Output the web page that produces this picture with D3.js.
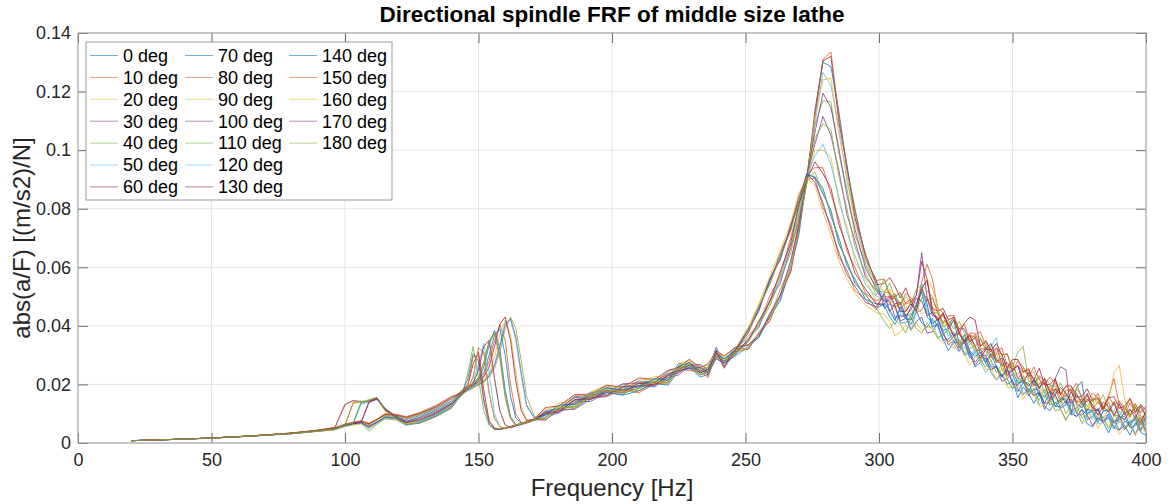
<!DOCTYPE html>
<html>
<head>
<meta charset="utf-8">
<script src="https://cdn.jsdelivr.net/npm/d3@7"></script>
<style>
  body { margin: 0; background: #fff; }
  svg { display: block; font-family: "Liberation Sans", Arial, Helvetica, sans-serif; }
</style>
</head>
<body>
<div id="chart"></div>
<script>
// frequency grid [Hz] shared by all measurements
const freq = [
  20, 35, 50, 65, 80, 90, 96,
  100, 103, 106, 109, 112, 115, 119, 123, 128, 134, 140,
  144, 146, 148, 150, 152, 154, 156, 158, 160, 162, 164, 166, 168, 171,
  175, 180, 186, 192, 198, 204, 210, 216, 221, 225, 229, 233, 236, 239, 242, 246,
  251, 255, 259, 263, 267, 270, 273, 276, 279, 282, 285, 288, 291, 295, 299,
  302, 304, 306, 308, 310, 312, 314, 316, 318, 320,
  322, 324, 326, 328, 330, 332, 334, 336, 338, 340,
  342, 344, 346, 348, 350, 352, 354, 356, 358, 360,
  362, 364, 366, 368, 370, 372, 374, 376, 378, 380,
  382, 384, 386, 388, 390, 392, 394, 396, 398, 400
];

// abs(a/F) per spindle direction, stored in 1e-3 (m/s2)/N
const deg0 = [
  0.8, 1.2, 1.7, 2.4, 3.2, 4.0, 4.6,
  6.1, 6.6, 13.6, 14.5, 15.4, 11.4, 8.7, 6.4, 7.0, 9.2, 12.4,
  17.5, 18.8, 20, 21.5, 26, 33.5, 38.5, 32, 18, 9, 6.2, 6.2, 6.8, 7.8,
  11.1, 11.6, 15.5, 15.7, 18.7, 18.1, 21.2, 20.7, 23.8, 24.8, 27.6, 24.7, 26, 30.3, 28.8, 31.4,
  39, 45, 56, 62.5, 74, 81.5, 92, 90.5, 87, 77.5, 70, 60.5, 56, 49, 47.5,
  47, 43, 40.5, 44, 42.5, 40.5, 45, 41, 39.5, 42.5,
  40, 35, 35.5, 37.5, 33.5, 34.5, 29, 31, 32, 27,
  25, 26.5, 23, 25, 21, 17.5, 20.5, 20.5, 16.5, 17,
  13.5, 17.5, 12.5, 12.5, 14.5, 9.5, 19, 21, 8, 9,
  11.5, 7.5, 8.5, 4.8, 8.9, 9, 5.2, 6, 8.7, 4
];
const deg10 = [
  0.8, 1.2, 1.7, 2.4, 3.4, 4.3, 5.0,
  6.0, 13.8, 14.0, 14.4, 15.0, 11.0, 8.8, 6.9, 7.5, 9.8, 13.0,
  17.5, 18.8, 19.8, 21, 23, 28, 35, 40.5, 35, 20, 10, 7, 6.8, 7.8,
  8.5, 11.8, 12.5, 16.3, 16.5, 19.1, 17.8, 20.9, 21.2, 26.2, 25.4, 25.3, 23, 31.7, 26.2, 31.6,
  36.5, 40.5, 50, 57, 70.5, 80, 92, 94, 94, 85, 76.5, 65.5, 60, 51, 48.5,
  50, 49.8, 51, 45.3, 48, 49, 44.5, 45.5, 49, 46,
  42, 43.5, 40, 43, 38.5, 35, 37.5, 37.5, 33, 34.5,
  29.5, 31, 32.5, 26.5, 24.5, 26.5, 24, 25.5, 19.5, 23,
  21, 17.5, 21.5, 17, 16, 19, 17, 13, 16, 14,
  17, 12, 16, 22, 12.9, 9.5, 13.7, 10.5, 12.2, 9
];
const deg20 = [
  0.8, 1.2, 1.7, 2.5, 3.4, 4.4, 5.2,
  13.5, 14.2, 13.8, 14.6, 15.3, 11.2, 8.6, 6.6, 7.2, 9.4, 12.6,
  17, 18.3, 19.3, 20.3, 21.5, 24, 29.5, 37, 42, 37, 24, 12.5, 8, 8,
  10.4, 13.7, 14, 17.4, 19.8, 18.8, 20.3, 22.8, 22.3, 27.1, 28.3, 25, 25.9, 31.4, 29.7, 32.1,
  34.5, 42, 47, 58, 66.5, 80.5, 89.5, 100, 100, 97.5, 82, 74, 62, 55.5, 48.5,
  50, 47.5, 50, 48, 43, 44.5, 47, 44, 45.5, 40.5,
  42.5, 44, 38.5, 36.5, 38, 34.5, 37, 32, 29, 32,
  32, 27.5, 28, 23.5, 27.5, 22, 22, 23.5, 18, 20.5,
  20, 15.5, 16.5, 18.5, 14.5, 15.5, 13.5, 15, 11, 13,
  15, 11, 15, 24, 26.5, 15, 9.2, 12, 7.2, 10
];
const deg30 = [
  0.8, 1.2, 1.6, 2.3, 3.2, 4.1, 4.7,
  13.0, 14.5, 14.2, 14.0, 15.0, 11.6, 8.4, 6.2, 6.8, 9.0, 12.0,
  17, 18, 19, 20, 21, 23, 26.5, 33, 40.5, 42.5, 36, 24, 13, 8.5,
  9.6, 10.1, 14, 14.2, 17.2, 16.6, 19.7, 19.2, 22.3, 23.3, 26.1, 23.2, 24.5, 28.8, 27.3, 29.9,
  35.5, 39.5, 48.5, 54.5, 67, 76, 91.5, 102, 111.5, 105, 93, 78, 69, 56.5, 52,
  48.5, 48.5, 43, 43, 44, 38.5, 41.5, 43, 37.5, 38,
  41, 38, 33.5, 35, 31.5, 34.5, 30, 26.5, 29, 29,
  25, 26, 21, 22, 23.5, 18.5, 16.5, 18.5, 16, 17.5,
  11.5, 15, 22, 26, 25, 10, 9, 11.5, 9.5, 6,
  9, 7, 10, 5.3, 4.4, 7.5, 6.2, 3, 7.2, 4
];
const deg40 = [
  0.8, 1.2, 1.7, 2.4, 3.3, 4.2, 4.9,
  6.2, 13.4, 14.3, 14.1, 15.2, 11.2, 8.5, 6.7, 7.4, 9.6, 12.8,
  16.8, 17.8, 18.8, 19.8, 20.8, 22.5, 25.5, 31, 39, 43, 39, 28, 16, 9,
  9.4, 12.7, 13, 16.4, 18.8, 17.8, 19.3, 21.8, 21.3, 26.1, 27.3, 24, 24.9, 30.4, 28.7, 31.1,
  32, 38, 42.5, 52.5, 60.5, 76.5, 89, 108.5, 117, 116.5, 98.5, 87, 71, 61, 52,
  51.5, 54.7, 49.5, 47.2, 50, 47.5, 45, 49.5, 50, 44.5,
  44.5, 39.5, 41, 42.5, 37, 35, 36.5, 33, 35.5, 31.5,
  28, 30.5, 30.5, 25.5, 26, 31, 33, 21, 21, 22.5,
  17, 19.5, 19.5, 15, 16, 18.5, 14.5, 15, 11, 15,
  15, 11, 11.5, 14.3, 9.4, 12, 9.7, 12.5, 7.7, 10.5
];
const deg50 = [
  0.8, 1.2, 1.7, 2.4, 3.3, 4.3, 4.9,
  5.9, 6.4, 13.2, 14.0, 14.8, 11.8, 9.0, 6.8, 7.4, 9.6, 12.8,
  17.2, 18.2, 19.2, 20.2, 21.2, 23.4, 27, 34, 41, 42, 35, 23, 12.5, 8.4,
  9.7, 10.2, 14.5, 15.1, 15.9, 18.9, 19.2, 19.3, 23.2, 24.4, 25.2, 25.5, 23.6, 31.1, 25.8, 31.4,
  33.5, 36, 44, 49, 62, 72.5, 91.5, 109, 126.5, 122, 107.5, 89.5, 77, 61, 55,
  49, 48.5, 50.6, 47.2, 42.8, 44, 44.5, 53, 46.5, 39.5,
  41, 41, 36.5, 38, 32.5, 34.5, 35.5, 30.5, 28, 30,
  33, 36, 25, 25, 23, 19.5, 23, 18.5, 17, 19.5,
  17, 13, 16, 13.5, 16.5, 11.5, 10.5, 13, 11.5, 8,
  12, 8.5, 10, 6.8, 10.9, 7.5, 6.2, 9.5, 4.2, 8
];
const deg60 = [
  0.8, 1.2, 1.7, 2.4, 3.4, 4.4, 5.3,
  6.0, 6.5, 6.8, 13.9, 15.1, 11.6, 9.0, 7.0, 7.8, 10.0, 13.2,
  17.5, 18.6, 19.6, 20.8, 22.5, 26, 33, 40.5, 43, 35, 21, 11, 7.6, 8.2,
  12.1, 12.6, 16.5, 16.7, 19.7, 19.1, 22.2, 21.7, 24.8, 25.8, 28.6, 25.7, 27, 31.3, 29.8, 32.4,
  32, 37.5, 41.5, 50.5, 58.5, 74, 89, 113.5, 130.5, 132, 109.5, 95, 77, 64.5, 54,
  54.5, 56.5, 53.5, 49.5, 53, 48, 50.5, 62, 56, 46,
  45, 46, 42, 43, 37.5, 41, 43, 42, 33, 35,
  31.5, 34, 30, 25.5, 28.5, 28.5, 24.5, 25, 21.5, 25.5,
  20, 20, 22, 16.5, 19.5, 19.5, 15.5, 16, 18.5, 14.5,
  15.5, 11.5, 15.5, 15.8, 11.9, 12.5, 15.2, 10.5, 13.2, 11
];
const deg70 = [
  0.8, 1.2, 1.7, 2.4, 3.3, 4.1, 4.6,
  6.0, 6.6, 7.0, 5.6, 7.2, 9.0, 8.8, 8.0, 9.4, 11.6, 14.4,
  17.8, 19.0, 20.2, 21.6, 24, 30, 37, 39, 30, 16, 8.5, 6.8, 7, 7.9,
  7.9, 11.2, 11.5, 14.9, 17.3, 16.3, 17.8, 20.3, 19.8, 24.6, 25.8, 22.5, 23.4, 28.9, 27.2, 29.6,
  33, 36, 43, 48.5, 60, 71, 91, 112, 130, 128.5, 113, 94, 80, 63, 55.5,
  46, 47.5, 46.5, 41, 41, 43.5, 47, 52.5, 47.5, 39.5,
  40.5, 35.5, 31.5, 34.5, 34, 30, 31, 26, 27.5, 29,
  24, 21.5, 23.5, 20, 21.5, 15.5, 19, 17, 13.5, 17,
  12.5, 11, 14, 11.5, 8, 11, 9, 11.5, 6.5, 5.5,
  8.5, 7, 3.5, 7.8, 4.4, 6, 2.7, 7, 3.7, 2.5
];
const deg80 = [
  0.8, 1.2, 1.7, 2.4, 3.3, 4.2, 4.8,
  6.4, 7.0, 7.5, 6.2, 8.0, 9.6, 9.4, 8.4, 9.8, 12.0, 15.0,
  18.2, 19.4, 20.6, 22.3, 27.5, 35, 37.5, 29, 15.5, 8.2, 6.0, 6.4, 7.1, 8.0,
  9.5, 12.8, 13.5, 17.3, 17.5, 20.1, 18.8, 21.9, 22.2, 27.2, 26.4, 26.3, 24, 32.7, 27.2, 32.6,
  33.5, 37, 43, 50, 59.5, 73, 90.5, 111.5, 131, 133.5, 111.5, 93, 79, 63, 55.5,
  56, 50, 50, 51.5, 47.5, 48, 46.5, 55, 61, 56,
  46, 44.5, 39, 42, 37.5, 34, 36.5, 36.5, 32, 32.5,
  29, 32.5, 27, 26, 27.5, 22, 24.5, 24, 19.5, 20,
  22, 17.5, 18.5, 14, 18, 18, 14, 14, 16.5, 11.5,
  14, 11.5, 14, 9.3, 11.9, 12.5, 8.7, 13.5, 9.2, 8.5
];
const deg90 = [
  0.8, 1.2, 1.7, 2.4, 3.3, 4.2, 4.7,
  6.1, 6.7, 7.1, 4.4, 6.8, 8.8, 8.6, 7.6, 9.0, 11.2, 14.0,
  17, 18.5, 20.5, 25, 33, 35, 22, 11, 6.2, 5.2, 5.8, 6.4, 7.0, 8.0,
  10.6, 11.1, 15, 15.2, 18.2, 17.6, 20.7, 20.2, 23.3, 24.3, 27.1, 24.2, 25.5, 29.8, 28.3, 30.9,
  32.5, 37.5, 42, 50.5, 60, 74, 89.5, 111, 124, 124.5, 105.5, 91.5, 75, 62.5, 53.5,
  52, 52.5, 45.6, 47.7, 47.3, 42, 45, 52.5, 56, 53,
  46.5, 40, 41, 37, 33, 36, 35.5, 31.5, 32.5, 27.5,
  29.5, 30.5, 25.5, 22.5, 24.5, 22, 23.5, 17.5, 21, 19,
  15.5, 19, 15, 13.5, 16.5, 14.5, 11, 13.5, 11.5, 14.5,
  9.5, 8.5, 11.5, 10.3, 6.9, 11, 7.7, 9.5, 6.2, 10.5
];
const deg100 = [
  0.8, 1.2, 1.7, 2.4, 3.2, 4.1, 4.6,
  5.8, 6.4, 6.9, 5.8, 7.2, 8.6, 8.2, 7.0, 8.4, 10.6, 13.4,
  16.5, 18.5, 22.5, 32.5, 31, 17, 8.5, 5.6, 5.0, 5.4, 6.0, 6.6, 7.2, 8.0,
  10.6, 11.5, 15.8, 16.4, 17.2, 20.2, 20.5, 20.6, 24.5, 25.7, 26.5, 26.8, 24.9, 32.4, 27.1, 32.7,
  33.5, 36.5, 44, 50.5, 62.5, 74.5, 91, 106, 119.5, 114.5, 100.5, 84.5, 73, 59.5, 53,
  48, 50.2, 47, 41.7, 42.5, 46.5, 50.5, 65, 49.5, 43.5,
  43, 37, 34.5, 36.5, 32.5, 35.5, 31, 27.5, 30, 30,
  26, 26, 22.5, 25.5, 20, 20, 21.5, 16, 18.5, 18,
  13.5, 14, 16.5, 12, 13, 15, 10, 9.5, 11.5, 11,
  11.5, 7, 9, 6.8, 9.4, 4.5, 7.2, 8, 4.2, 9
];
const deg110 = [
  0.8, 1.2, 1.7, 2.4, 3.3, 4.3, 5.0,
  6.3, 6.9, 7.4, 6.4, 7.9, 9.4, 9.2, 8.6, 10.0, 12.2, 15.2,
  17, 24, 33, 22, 11, 6, 4.6, 4.6, 5.1, 5.6, 6.2, 6.8, 7.3, 8.2,
  8.6, 11.9, 12.2, 15.6, 18, 17, 18.5, 21, 20.5, 25.3, 26.5, 23.2, 24.1, 29.6, 27.9, 30.3,
  34.5, 40.5, 46.5, 56, 65, 78, 89.5, 104, 109, 107, 91, 80, 67, 58, 50.5,
  56, 50.5, 50, 51, 45, 48, 52.5, 54, 52, 50,
  45, 41, 42, 39, 41.5, 37.5, 33.5, 36.5, 36, 32,
  33.5, 28, 30, 30.5, 25.5, 23.5, 25.5, 23, 24.5, 18.5,
  22, 20, 17, 20.5, 16.5, 15.5, 18.5, 16, 12.5, 15.5,
  13.5, 16.5, 11.5, 10.8, 13.9, 12.5, 9.2, 13.5, 10.2, 12
];
const deg120 = [
  0.8, 1.2, 1.7, 2.4, 3.2, 4.0, 4.5,
  5.6, 6.2, 6.6, 4.0, 6.4, 8.2, 7.8, 6.0, 7.2, 9.6, 12.4,
  16.5, 18, 21, 27, 34, 24, 10, 5.5, 4.8, 5.3, 5.9, 6.5, 7.1, 8.0,
  9.3, 12.6, 13.3, 17.1, 17.3, 19.9, 18.6, 21.7, 22, 27, 26.2, 26.1, 23.8, 32.5, 27, 32.4,
  35.5, 40, 48.5, 56, 68.5, 78.5, 91.5, 98, 102, 95, 84, 72, 64, 54, 50,
  49.5, 44.5, 42, 45.5, 43, 38.5, 45, 54.5, 44.5, 42,
  35.5, 37.5, 38.5, 33.5, 31, 33, 29, 32, 27.5, 24,
  27, 26.5, 22.5, 22, 18.5, 22.5, 17, 17, 18.5, 13,
  15.5, 15, 11, 11.5, 14, 10, 11, 6.5, 10.5, 10.5,
  6.5, 7, 9.5, 4.8, 7.4, 5, 7.7, 3, 5.7, 6.5
];
const deg130 = [
  0.8, 1.2, 1.7, 2.4, 3.3, 4.2, 4.8,
  6.2, 6.8, 7.3, 6.6, 8.0, 9.8, 9.6, 8.8, 10.2, 12.4, 15.6,
  17.5, 20, 27, 31, 18, 7.5, 4.8, 4.6, 5.0, 5.5, 6.1, 6.7, 7.2, 8.1,
  10.3, 10.8, 14.7, 14.9, 17.9, 17.3, 20.4, 19.9, 23, 24, 26.8, 23.9, 25.2, 29.5, 28, 30.6,
  35, 41.5, 48, 58.5, 68.5, 81.5, 90, 96, 92, 87, 74.5, 67, 58, 52.5, 47.5,
  47.5, 49.3, 49.5, 44.8, 45, 47.5, 45, 53, 55.5, 44.5,
  42, 44, 40.5, 36.5, 37.5, 34.5, 37, 33, 29, 32,
  32, 27.5, 29, 23, 25, 26.5, 21.5, 19.5, 21.5, 19,
  20.5, 14.5, 18.5, 16.5, 13.5, 17.5, 13.5, 12, 15, 13,
  9.5, 12.5, 10.5, 13.8, 8.9, 8, 11.2, 10, 6.7, 11
];
const deg140 = [
  0.8, 1.2, 1.7, 2.4, 3.2, 4.1, 4.7,
  6.0, 6.5, 6.9, 5.2, 7.0, 8.8, 8.5, 7.4, 8.8, 11.0, 13.8,
  17.5, 22, 30.5, 28, 14, 6.5, 4.8, 4.6, 5.1, 5.6, 6.1, 6.6, 7.2, 8.1,
  9.6, 12.9, 13.2, 16.6, 19, 18, 19.5, 22, 21.5, 26.3, 27.5, 24.2, 25.1, 30.6, 28.9, 31.3,
  38.5, 46, 55, 64, 73.5, 83.5, 91.5, 91, 85, 79.5, 68, 62, 54.5, 50.5, 46,
  47.5, 45.5, 42, 46.5, 42.5, 42, 47.5, 51.5, 43, 41,
  42, 38.5, 39, 42, 34, 37, 31.5, 29.5, 31, 27.5,
  30.5, 26, 22.5, 24.5, 24.5, 20.5, 21, 17.5, 21.5, 16,
  16, 17.5, 12.5, 15, 15, 11, 12, 14, 10, 11,
  7, 11, 11, 7.3, 7.9, 10.5, 5.7, 8.5, 6.2, 9
];
const deg150 = [
  0.8, 1.2, 1.7, 2.5, 3.4, 4.4, 5.1,
  6.5, 7.1, 7.6, 6.8, 8.2, 10.0, 9.8, 9.0, 10.4, 12.8, 16.0,
  16.5, 19.5, 29.5, 30, 15, 7.5, 5.2, 4.8, 5.2, 5.6, 6.2, 6.8, 7.3, 8.2,
  7.8, 11.1, 11.8, 15.6, 15.8, 18.4, 17.1, 20.2, 20.5, 25.5, 24.7, 24.6, 22.3, 31, 25.5, 30.9,
  38.5, 47, 54, 65, 73, 85, 90, 90.5, 80.5, 74.5, 63.5, 59, 52, 49, 45.5,
  51.5, 51.5, 46.5, 47.5, 51, 49.5, 47.5, 53, 48.5, 49.5,
  44.5, 41, 43.5, 43.5, 39, 40.5, 35, 37, 38, 33,
  31, 32.5, 30, 30.5, 24.5, 28, 26, 22.5, 26, 21.5,
  20, 22.5, 20.5, 16.5, 19.5, 17.5, 20.5, 15, 14, 17,
  15.5, 12, 16, 12.8, 14.4, 11, 15.2, 12, 10.7, 12.5
];
const deg160 = [
  0.8, 1.2, 1.7, 2.4, 3.2, 4.0, 4.4,
  5.7, 6.2, 6.5, 5.0, 6.6, 8.4, 8.0, 6.6, 7.8, 10.2, 13.0,
  16.5, 18.5, 22.5, 32.5, 31, 17, 8.5, 5.6, 5.0, 5.4, 6.0, 6.6, 7.2, 8.0,
  11.8, 12.3, 16.2, 16.4, 19.4, 18.8, 21.9, 21.4, 24.5, 25.5, 28.3, 25.4, 26.7, 31, 29.5, 32.1,
  39.5, 47.5, 56.5, 65.5, 75.5, 85, 90.5, 88, 79, 71, 62, 56, 51, 47, 44.5,
  44, 41.5, 36.5, 38, 40.5, 38.5, 41, 38.5, 39.5, 39.5,
  36, 34, 35.5, 32, 34.5, 30.5, 26.5, 29.5, 29, 25,
  25.5, 21.5, 25.5, 19, 19, 20.5, 15, 17.5, 17, 12.5,
  13, 15, 11, 11.5, 7.5, 11.5, 11.5, 7, 7.7, 10,
  5, 7.5, 5, 7.8, 2.9, 5.5, 6.2, 2.5, 7.2, 3
];
const deg170 = [
  0.8, 1.2, 1.7, 2.4, 3.3, 4.2, 4.9,
  6.2, 6.7, 7.0, 14.2, 15.5, 11.8, 9.2, 7.2, 8.0, 10.2, 13.4,
  17, 18.5, 20.5, 25, 33, 35, 22, 11, 6.2, 5.2, 5.8, 6.4, 7.0, 8.0,
  10, 10.5, 14.8, 15.4, 16.2, 19.2, 19.5, 19.6, 23.5, 24.7, 25.5, 25.8, 23.9, 31.4, 26.1, 31.7,
  37.5, 45.5, 55.5, 63, 74.5, 83, 92, 89, 82, 73, 65, 57.5, 53.5, 48, 46.5,
  51, 45, 47.5, 48, 43.5, 45.5, 49.5, 48.5, 43.5, 44.5,
  41.5, 44.5, 40, 36.5, 39, 39, 34.5, 36, 30.5, 32.5,
  34, 28.5, 26.5, 27.5, 25, 26.5, 20.5, 24, 22, 18.5,
  22, 17.5, 16.5, 19, 17, 13.5, 16.5, 14, 17, 12,
  11, 14, 12.5, 9.3, 13.4, 10, 11.7, 8.5, 12.7, 9.5
];
const deg180 = [
  0.8, 1.2, 1.7, 2.4, 3.3, 4.1, 4.8,
  6.3, 6.8, 14.0, 14.8, 15.6, 11.2, 8.4, 6.2, 6.9, 9.0, 12.2,
  17.8, 19.0, 20.3, 22.0, 27.5, 34.5, 37.5, 30, 16.5, 8.6, 6.3, 6.4, 6.9, 7.9,
  8.8, 12.1, 12.4, 15.8, 18.2, 17.2, 18.7, 21.2, 20.7, 25.5, 26.7, 23.4, 24.3, 29.8, 28.1, 30.5,
  38, 46.5, 54, 63.5, 72.5, 83, 90, 92.5, 85.5, 79, 68, 62, 55, 50.5, 46,
  41.5, 39, 42, 40.5, 37.5, 43, 39, 37.5, 41, 38.5,
  36, 37, 38.5, 35, 35.5, 30.5, 32, 33.5, 28, 26,
  28, 24, 27, 22, 18.5, 21.5, 21.5, 17.5, 18, 14.5,
  18.5, 13, 13.5, 15, 10, 13, 13, 8.5, 9.5, 12,
  8, 9, 5, 9.3, 9.4, 5.5, 6.2, 9, 4.2, 7
];

const angles = [0, 10, 20, 30, 40, 50, 60, 70, 80, 90, 100, 110, 120, 130, 140, 150, 160, 170, 180];
const series = [deg0, deg10, deg20, deg30, deg40, deg50, deg60, deg70, deg80, deg90,
  deg100, deg110, deg120, deg130, deg140, deg150, deg160, deg170, deg180];

const xTicks = [0, 50, 100, 150, 200, 250, 300, 350, 400];
const yTicks = [0, 0.02, 0.04, 0.06, 0.08, 0.1, 0.12, 0.14];

// matlab default line colours, cycling
const palette = ['#0072BD', '#D95319', '#EDB120', '#7E2F8E', '#77AC30', '#4DBEEE', '#A2142F'];

const W = 1171, H = 504;
const pL = 78, pR = 1146, pT = 33, pB = 443;

const svg = d3.select('#chart')
  .append('svg')
  .attr('width', W)
  .attr('height', H);

const x = d3.scaleLinear().domain([0, 400]).range([pL, pR]);
const y = d3.scaleLinear().domain([0, 0.14]).range([pB, pT]);

// grid
svg.append('g')
  .selectAll('line')
  .data(xTicks)
  .enter()
  .append('line')
  .attr('x1', d => x(d)).attr('x2', d => x(d))
  .attr('y1', pT).attr('y2', pB)
  .attr('stroke', '#e6e6e6')
svg.append('g')
  .selectAll('line')
  .data(yTicks)
  .enter()
  .append('line')
  .attr('x1', pL).attr('x2', pR)
  .attr('y1', d => y(d)).attr('y2', d => y(d))
  .attr('stroke', '#e6e6e6')

svg.append('clipPath').attr('id', 'clip')
  .append('rect')
  .attr('x', pL).attr('y', pT)
  .attr('width', pR - pL).attr('height', pB - pT)

const line = d3.line()
  .defined((d, i) => i < freq.length)
  .x((d, i) => x(freq[i]))
  .y(d => y(d * 1e-3))

svg.append('g')
  .attr('clip-path', 'url(#clip)')
  .selectAll('path')
  .data(series)
  .enter()
  .append('path')
  .attr('d', line)
  .attr('fill', 'none')
  .attr('stroke', (d, i) => palette[i % 7])
  .attr('stroke-width', 0.9)
  .attr('stroke-opacity', 0.85)
  .attr('stroke-linejoin', 'round')

// axes, ticks pointing inward like matlab
const fmtY = d => String(+d.toFixed(2));

function styleAxis(g) {
  g.select('.domain').remove();
  g.selectAll('.tick line').attr('stroke', '#6e6e6e');
  g.selectAll('.tick text')
    .attr('fill', '#262626')
    .style('font-size', '18px');
}

svg.append('g')
  .attr('transform', `translate(0,${pB})`)
  .call(d3.axisBottom(x).tickValues(xTicks).tickSizeInner(-10).tickSizeOuter(0).tickPadding(10))
  .call(styleAxis)
svg.append('g')
  .attr('transform', `translate(0,${pT})`)
  .call(d3.axisTop(x).tickValues(xTicks).tickSizeInner(-10).tickSizeOuter(0).tickFormat(''))
  .call(styleAxis)
svg.append('g')
  .attr('transform', `translate(${pL},0)`)
  .call(d3.axisLeft(y).tickValues(yTicks).tickSizeInner(-10).tickSizeOuter(0).tickPadding(7).tickFormat(fmtY))
  .call(styleAxis)
svg.append('g')
  .attr('transform', `translate(${pR},0)`)
  .call(d3.axisRight(y).tickValues(yTicks).tickSizeInner(-10).tickSizeOuter(0).tickFormat(''))
  .call(styleAxis)

svg.append('rect')
  .attr('x', pL).attr('y', pT)
  .attr('width', pR - pL).attr('height', pB - pT)
  .attr('fill', 'none')
  .attr('stroke', '#9a9a9a')

// labels
svg.append('text')
  .attr('x', (pL + pR) / 2)
  .attr('y', 22)
  .attr('text-anchor', 'middle')
  .attr('fill', '#000')
  .style('font-size', '22.5px')
  .style('font-weight', 'bold')
  .text('Directional spindle FRF of middle size lathe')
svg.append('text')
  .attr('x', (pL + pR) / 2)
  .attr('y', 496)
  .attr('text-anchor', 'middle')
  .attr('fill', '#262626')
  .style('font-size', '24px')
  .text('Frequency [Hz]')
svg.append('text')
  .attr('transform', `translate(30,${(pT + pB) / 2}) rotate(-90)`)
  .attr('text-anchor', 'middle')
  .attr('fill', '#262626')
  .style('font-size', '24px')
  .text('abs(a/F) [(m/s2)/N]')

// legend, 7 rows filled column by column
const legend = svg.append('g')
legend.append('rect')
  .attr('x', 86).attr('y', 42)
  .attr('width', 306).attr('height', 158)
  .attr('fill', '#fff')
  .attr('stroke', '#9a9a9a')

const colX = [90, 185, 289];
const item = legend.selectAll('g.item')
  .data(angles)
  .enter()
  .append('g')
  .attr('class', 'item')
  .attr('transform', (d, i) => `translate(${colX[Math.floor(i / 7)]},${55.5 + (i % 7) * 21.9})`)
item.append('line')
  .attr('x1', 0).attr('x2', 28)
  .attr('stroke', (d, i) => palette[i % 7])
  .attr('stroke-width', 1)
  .attr('stroke-opacity', 0.55)
item.append('text')
  .attr('x', 33)
  .attr('dy', '0.35em')
  .attr('fill', '#000')
  .style('font-size', '18px')
  .text(d => d + ' deg')
</script>
</body>
</html>
